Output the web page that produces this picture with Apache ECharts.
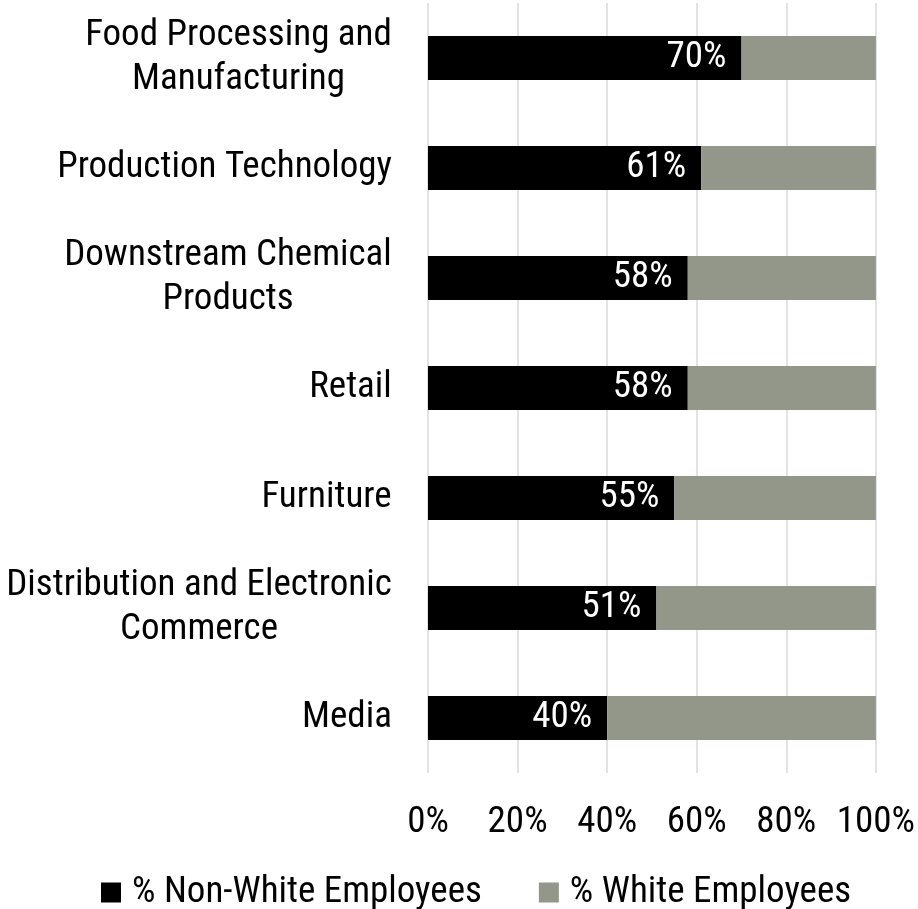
<!DOCTYPE html>
<html>
<head>
<meta charset="utf-8">
<script src="https://cdn.jsdelivr.net/npm/echarts@6/dist/echarts.min.js"></script>
<style>
  html, body { margin: 0; padding: 0; background: #fff; }
  #chart { width: 918px; height: 909px; }
</style>
</head>
<body>
<div id="chart"></div>
<script>
const categories = [
  'Food Processing and\nManufacturing',
  'Production Technology',
  'Downstream Chemical\nProducts',
  'Retail',
  'Furniture',
  'Distribution and Electronic\nCommerce',
  'Media'
];
const nonWhite = [70, 61, 58, 58, 55, 51, 40];
const white = [30, 39, 42, 42, 45, 49, 60];
const seriesNames = ['% Non-White Employees', '% White Employees'];

const FONT = '"Roboto Condensed", Roboto, sans-serif';
const FONT_SIZE = 37;

// Multi-line category labels: right edge of each block sits at the axis,
// lines inside a block are centred on each other.
const measure = document.createElement('canvas').getContext('2d');
measure.font = FONT_SIZE + 'px ' + FONT;
const rich = {};
const labelMap = {};
categories.forEach((cat, i) => {
  const lines = cat.split('\n');
  const w = Math.ceil(Math.max(...lines.map(l => measure.measureText(l).width)));
  const key = 'c' + i;
  rich[key] = { width: w, align: 'center', fontSize: FONT_SIZE, fontFamily: FONT, color: '#000', lineHeight: 44 };
  labelMap[cat] = lines.map(l => '{' + key + '|' + l + '}').join('\n');
});

const chart = echarts.init(document.getElementById('chart'), null, { renderer: 'canvas' });
chart.setOption({
  backgroundColor: '#ffffff',
  animation: false,
  textStyle: { fontFamily: FONT },
  grid: { left: 428, right: 40, top: 3, height: 770, containLabel: false },
  legend: {
    left: 96, top: 869,
    icon: 'rect',
    itemWidth: 20, itemHeight: 20, itemGap: 57,
    textStyle: { fontSize: FONT_SIZE, color: '#000', fontFamily: FONT, padding: [0, 0, 0, 6] },
    data: seriesNames
  },
  xAxis: {
    type: 'value', min: 0, max: 100, interval: 20,
    axisLine: { show: false }, axisTick: { show: false },
    splitLine: { lineStyle: { color: '#d9d9d9', width: 1.5 } },
    axisLabel: { fontSize: FONT_SIZE, color: '#000', margin: 31, formatter: v => v + '%' }
  },
  yAxis: {
    type: 'category', inverse: true, data: categories,
    axisLine: { show: false }, axisTick: { show: false },
    axisLabel: {
      fontSize: FONT_SIZE, color: '#000', margin: 36, align: 'right', lineHeight: 44,
      formatter: v => labelMap[v],
      rich: rich
    }
  },
  series: [
    {
      name: seriesNames[0], type: 'bar', stack: 'total', barWidth: 44,
      itemStyle: { color: '#000000' },
      label: { show: true, position: 'insideRight', distance: 15, color: '#fff', fontSize: FONT_SIZE, formatter: p => p.value + '%' },
      data: nonWhite
    },
    {
      name: seriesNames[1], type: 'bar', stack: 'total', barWidth: 44,
      itemStyle: { color: '#92978a' },
      data: white
    }
  ]
});
</script>
</body>
</html>
